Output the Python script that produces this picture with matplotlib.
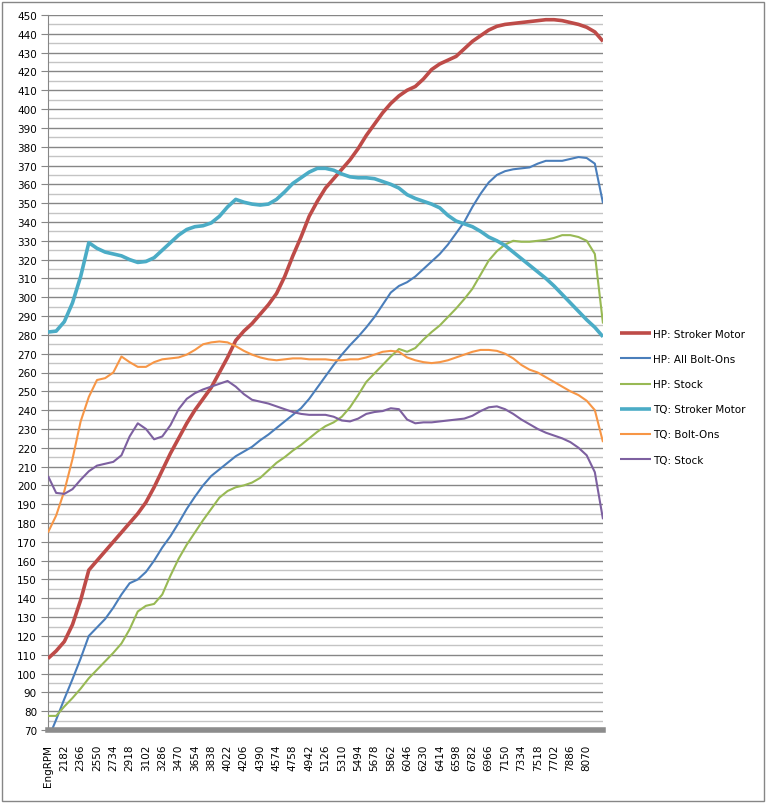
import numpy as np
import matplotlib.pyplot as plt
from matplotlib.patches import Rectangle

# dyno pull, one sample every 92 rpm (first row is the header row "EngRPM")
rpm = list(range(1998, 8255, 92))
tick_rpm = rpm[::2][:34]
tick_labels = ['EngRPM'] + [str(r) for r in tick_rpm[1:]]

hp_stroker = [108, 112, 117, 126, 139, 155, 160, 165, 170, 175, 180, 185, 191, 199, 208, 217, 225, 233,
              240, 246, 252, 260, 268, 277, 282, 286, 291, 296, 302, 311, 322, 332, 343, 351, 358, 363,
              368, 373, 379, 386, 392, 398, 403, 407, 410, 412, 416, 421, 424, 426, 428, 432, 436, 439,
              442, 444, 445, 445.5, 446, 446.5, 447, 447.5, 447.5, 447, 446, 445, 443.5, 441, 436]
hp_boltons = [65, 75.5, 86.5, 97, 108, 120, 124.5, 129, 135, 142, 148, 150, 154, 160, 167, 173, 180, 187.5,
              194, 200, 205, 208.5, 212, 215.5, 218, 220.5, 224, 227, 230.5, 234, 237.5, 241, 246, 252,
              258, 264, 269.5, 274.5, 279, 284, 289.5, 296, 302.5, 306, 308, 311, 315, 319, 323, 328,
              334, 340, 348, 355, 361, 365, 367, 368, 368.5, 369, 371, 372.5, 372.5, 372.5, 373.5,
              374.5, 374, 371, 350]
hp_stock = [77.5, 77.5, 82.5, 87, 92, 97.5, 102, 106.5, 111, 116, 123.5, 133, 136, 137, 142, 152, 161,
            168.5, 175, 181.5, 187.5, 193.5, 197, 199, 200, 201.5, 204, 208, 212, 215, 218.5, 221.5,
            225, 228.5, 231.5, 233.5, 236.5, 241.5, 248, 255, 259.5, 264, 268.5, 272.5, 271, 273,
            277.5, 281.5, 285, 289.5, 294, 299, 304.5, 312, 319.5, 324.5, 328, 330, 329.5, 329.5, 330,
            330.5, 331.5, 333, 333, 332, 330, 323, 286]
tq_stroker = [281.5, 282, 287, 297, 311, 329, 326, 324, 323, 322, 320, 318.5, 319, 321, 325, 329, 333,
              336, 337.5, 338, 339.5, 343, 348, 352, 350.5, 349.5, 349, 349.5, 352, 356, 360.5, 363.5,
              366.5, 368.5, 368.5, 367.5, 365.5, 364, 363.5, 363.5, 363, 361.5, 360, 358, 354.5, 352.5,
              351, 349.5, 347.5, 343.5, 340.5, 339, 337.5, 335, 332, 330, 327.5, 324, 320.5, 317, 313.5,
              310, 306, 301.5, 297, 292.5, 288, 284, 279]
tq_boltons = [175, 184, 197, 214, 234, 247, 256, 257, 260, 268.5, 265.5, 263, 263, 265.5, 267, 267.5,
              268, 269.5, 272, 275, 276, 276.5, 276, 274, 271.5, 269.5, 268, 267, 266.5, 267, 267.5,
              267.5, 267, 267, 267, 266.5, 266.5, 267, 267, 268, 269.5, 271, 271.5, 271, 268, 266.5,
              265.5, 265, 265.5, 266.5, 268, 269.5, 271, 272, 272, 271.5, 270, 267.5, 264, 261.5, 260,
              257.5, 255, 252.5, 250, 248, 245, 240, 223]
tq_stock = [205, 196, 195.5, 198, 203, 207.5, 210.5, 211.5, 212.5, 216, 226, 233, 230, 224.5, 226, 232,
            240.5, 246, 249, 251, 252.5, 254, 255.5, 252.5, 248.5, 245.5, 244.5, 243.5, 242, 240.5, 239,
            238, 237.5, 237.5, 237.5, 236.5, 234.5, 234, 235.5, 238, 239, 239.5, 241, 240.5, 235, 233,
            233.5, 233.5, 234, 234.5, 235, 235.5, 237, 239.5, 241.5, 242, 240.5, 238, 235, 232.5, 230,
            228, 226.5, 225, 223, 220, 216, 207, 182]

series = [
    ('HP: Stroker Motor', hp_stroker, '#BE4B48', 2.6),
    ('HP: All Bolt-Ons', hp_boltons, '#4A7EBB', 1.5),
    ('HP: Stock', hp_stock, '#98B954', 1.5),
    ('TQ: Stroker Motor', tq_stroker, '#4BACC6', 2.6),
    ('TQ: Bolt-Ons', tq_boltons, '#F79646', 1.5),
    ('TQ: Stock', tq_stock, '#7D60A0', 1.5),
]

fig = plt.figure(figsize=(7.67, 8.04), dpi=100)
ax = fig.add_axes([48 / 767, 1 - 731 / 804, 555 / 767, 715 / 804])

for label, vals, color, lw in series:
    ax.plot(rpm, vals, color=color, lw=lw, label=label, solid_capstyle='butt', zorder=3)

ax.set_xlim(rpm[0], rpm[-1])
ax.set_ylim(70, 450)
ax.set_yticks(np.arange(70, 451, 10))
ax.set_yticks(np.arange(75, 450, 10), minor=True)
ax.grid(axis='y', which='major', color='#868686', lw=1.0, zorder=0)
ax.grid(axis='y', which='minor', color='#c4c4c4', lw=1.0, zorder=0)
ax.set_xticks(tick_rpm)
ax.set_xticklabels(tick_labels, rotation=90, fontsize=7.5, va='top', ha='center')
ax.tick_params(axis='x', length=0, pad=10)
ax.tick_params(axis='y', which='major', length=5, color='#868686', labelsize=7.5, pad=3)
ax.tick_params(axis='y', which='minor', length=0)

for s in ['top', 'right', 'bottom']:
    ax.spines[s].set_visible(False)
ax.spines['left'].set_color('#868686')
ax.axhline(70, color='#8c8c8c', lw=4, zorder=4, clip_on=False)

fig.legend(loc='upper left', bbox_to_anchor=(620 / 767, 1 - 330 / 804), frameon=False,
           fontsize=7.5, handlelength=3.0, handletextpad=0.2, labelspacing=1.45,
           borderpad=0, borderaxespad=0)

fig.patches.append(Rectangle((2 / 767, 2 / 804), 762 / 767, 799 / 804, transform=fig.transFigure,
                             fill=False, edgecolor='#868686', lw=1))

fig.savefig('out.png', dpi=100)
